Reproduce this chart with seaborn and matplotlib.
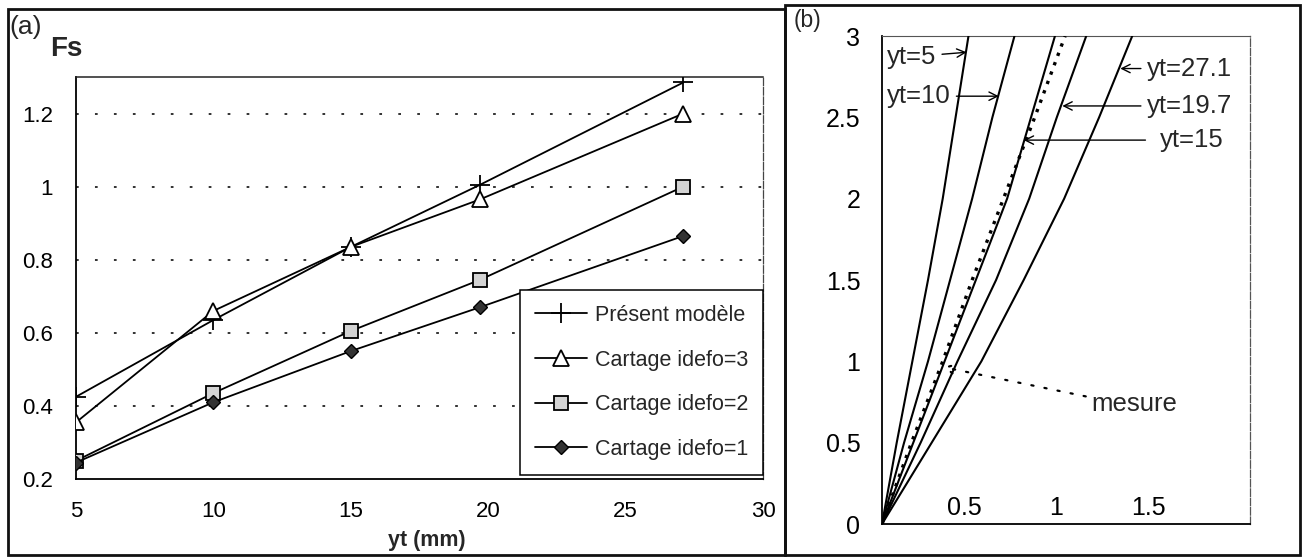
import matplotlib
matplotlib.use("Agg")
import matplotlib.pyplot as plt
import numpy as np
import pandas as pd
import seaborn as sns
from matplotlib.patches import Rectangle
from matplotlib.transforms import ScaledTranslation

# ---------------- data: panel (a) ----------------
yt_mm = [5, 10, 15, 19.7, 27.1]
fs_present = [0.425, 0.635, 0.835, 1.005, 1.285]
fs_idefo3 = [0.355, 0.66, 0.835, 0.965, 1.2]
fs_idefo2 = [0.25, 0.435, 0.605, 0.745, 1.0]
fs_idefo1 = [0.245, 0.41, 0.55, 0.67, 0.865]
series_labels = ["Présent modèle", "Cartage idefo=3", "Cartage idefo=2", "Cartage idefo=1"]
a_xticks = [5, 10, 15, 20, 25, 30]
a_yticks = [0.2, 0.4, 0.6, 0.8, 1.0, 1.2]
a_yticklabels = ["0.2", "0.4", "0.6", "0.8", "1", "1.2"]

# ---------------- data: panel (b) ----------------
b_y = [0, 0.5, 1, 1.5, 2, 2.5, 3]
b_x_yt5 = [0, 0.08, 0.165, 0.25, 0.33, 0.40, 0.47]
b_x_yt10 = [0, 0.12, 0.25, 0.37, 0.49, 0.60, 0.72]
b_x_yt15 = [0, 0.17, 0.34, 0.51, 0.68, 0.81, 0.94]
b_x_yt197 = [0, 0.21, 0.41, 0.62, 0.80, 0.95, 1.11]
b_x_yt271 = [0, 0.27, 0.54, 0.77, 0.99, 1.18, 1.36]
b_x_mesure = [0, 0.16, 0.33, 0.49, 0.66, 0.83, 0.995]
b_curve_labels = ["yt=5", "yt=10", "yt=15", "yt=19.7", "yt=27.1"]
b_xticks = [0.5, 1, 1.5]
b_xticklabels = ["0.5", "1", "1.5"]
b_yticks = [0, 0.5, 1, 1.5, 2, 2.5, 3]
b_yticklabels = ["0", "0.5", "1", "1.5", "2", "2.5", "3"]

sns.set_theme(style="white")
plt.rcParams["font.family"] = ["Liberation Sans", "DejaVu Sans"]

W, H = 1308, 558
fig = plt.figure(figsize=(W / 100, H / 100), dpi=100)
fig.patch.set_facecolor("white")


def px_rect(l, r, t, b):
    return [l / W, 1 - b / H, (r - l) / W, (b - t) / H]


# ---------------- panel (a) ----------------
ax = fig.add_axes(px_rect(76, 763, 77, 479))
ax.set_facecolor("white")
styles = [
    dict(marker="+", markersize=15, markerfacecolor="black", markeredgewidth=1.3),
    dict(marker="^", markersize=11, markerfacecolor="white", markeredgewidth=1.3),
    dict(marker="s", markersize=10, markerfacecolor="#d4d4d4", markeredgewidth=1.3),
    dict(marker="D", markersize=7.5, markerfacecolor="#333333", markeredgewidth=1.0),
]
for vals, lab, st in zip([fs_present, fs_idefo3, fs_idefo2, fs_idefo1], series_labels, styles):
    sns.lineplot(x=yt_mm, y=vals, ax=ax, color="black", linewidth=1.3,
                 markeredgecolor="black", label=lab, zorder=3, **st)

ax.set_xlim(5, 30)
ax.set_ylim(0.2, 1.3)
ax.set_xticks(a_xticks)
ax.set_xticklabels([str(t) for t in a_xticks])
ax.set_yticks(a_yticks)
ax.set_yticklabels(a_yticklabels)
for yv in a_yticks[1:]:
    ax.axhline(yv, color="#222222", linestyle=(0, (1.5, 9)), linewidth=1.3, zorder=1)
ax.tick_params(axis="both", direction="inout", length=11, width=1.1, labelsize=16,
               colors="black")
ax.tick_params(axis="x", pad=10)
ax.tick_params(axis="y", pad=11)
for s in ["left", "bottom"]:
    ax.spines[s].set_color("black")
    ax.spines[s].set_linewidth(1.3)
ax.spines["top"].set_color("#222222")
ax.spines["top"].set_linewidth(1.1)
ax.spines["right"].set_color("#444444")
ax.spines["right"].set_linewidth(0.9)
ax.spines["right"].set_linestyle((0, (6, 1.5)))
ax.set_xlabel("yt (mm)", fontsize=15.5, fontweight="bold")
ax.xaxis.set_label_coords(0.511, -0.128)
ax.set_ylabel("")
leg = ax.legend(loc="lower right", bbox_to_anchor=(1.0, 0.01), frameon=True, fancybox=False,
                framealpha=1, edgecolor="black", fontsize=15.5, handlelength=2.4,
                handletextpad=0.35, labelspacing=1.1, borderpad=0.7, borderaxespad=0.0)
leg.get_frame().set_linewidth(1.1)
leg.set_zorder(5)

fig.text(9 / W, 1 - 27 / H, "(a)", fontsize=19, va="center", ha="left")
fig.text(50 / W, 1 - 49 / H, "Fs", fontsize=20, fontweight="bold", va="center", ha="left")

# ---------------- panel (b) ----------------
bx = fig.add_axes(px_rect(882, 1250, 36, 524))
bx.set_facecolor("white")
for xs in [b_x_yt5, b_x_yt10, b_x_yt15, b_x_yt197, b_x_yt271]:
    sns.lineplot(x=xs, y=b_y, ax=bx, sort=False, estimator=None, color="black",
                 linewidth=1.5, zorder=3)
sns.lineplot(x=b_x_mesure, y=b_y, ax=bx, sort=False, estimator=None, color="black",
             linewidth=2.4, linestyle=(0, (1, 2.0)), zorder=4)
bx.set_xlim(0, 2)
bx.set_ylim(0, 3)
bx.set_yticks(b_yticks)
bx.set_yticklabels(b_yticklabels)
bx.set_xticks(b_xticks)
bx.set_xticklabels(b_xticklabels)
bx.tick_params(axis="both", direction="inout", length=13, width=1.1, labelsize=18,
               colors="black")
bx.tick_params(axis="y", pad=9)
bx.tick_params(axis="x", pad=0)
shift = ScaledTranslation(-10 / 100, 37 / 100, fig.dpi_scale_trans)
for lbl in bx.get_xticklabels():
    lbl.set_transform(lbl.get_transform() + shift)
for s in ["left", "bottom"]:
    bx.spines[s].set_color("black")
    bx.spines[s].set_linewidth(1.3)
bx.spines["top"].set_color("#555555")
bx.spines["top"].set_linewidth(0.8)
bx.spines["right"].set_color("#555555")
bx.spines["right"].set_linewidth(0.9)
bx.spines["right"].set_linestyle((0, (6, 1.5)))

FS_B = 18.5
arrow = dict(arrowstyle="->", color="black", lw=1.0, shrinkA=2, shrinkB=0,
             mutation_scale=15)
bx.annotate(b_curve_labels[0], xy=(0.46, 2.90), xytext=(0.025, 2.87), fontsize=FS_B,
            ha="left", va="center", arrowprops=dict(arrow, relpos=(1, 0.6)))
bx.annotate(b_curve_labels[1], xy=(0.635, 2.63), xytext=(0.025, 2.63), fontsize=FS_B,
            ha="left", va="center", arrowprops=dict(arrow, relpos=(1, 0.5)))
bx.annotate(b_curve_labels[4], xy=(1.295, 2.80), xytext=(1.44, 2.80), fontsize=FS_B,
            ha="left", va="center", arrowprops=dict(arrow, relpos=(0, 0.5)))
bx.annotate(b_curve_labels[3], xy=(0.98, 2.57), xytext=(1.44, 2.57), fontsize=FS_B,
            ha="left", va="center", arrowprops=dict(arrow, relpos=(0, 0.5)))
bx.annotate(b_curve_labels[2], xy=(0.77, 2.36), xytext=(1.51, 2.36), fontsize=FS_B,
            ha="left", va="center",
            arrowprops=dict(arrow, relpos=(0, 0.5), shrinkA=8))
bx.annotate("mesure", xy=(0.33, 0.965), xytext=(1.14, 0.74), fontsize=FS_B,
            ha="left", va="center",
            arrowprops=dict(arrowstyle="->", color="black", lw=1.6, linestyle=(0, (1, 5)),
                            relpos=(0, 0.75), shrinkA=2, shrinkB=0, mutation_scale=15))

fig.text(794 / W, 1 - 20 / H, "(b)", fontsize=16.5, va="center", ha="left")

# ---------------- panel frames ----------------
fig.add_artist(Rectangle((8 / W, 1 - 555 / H), (785 - 8) / W, (555 - 9) / H,
                         transform=fig.transFigure, fill=False, edgecolor="#111111",
                         linewidth=2.0))
fig.add_artist(Rectangle((785 / W, 1 - 555 / H), (1300 - 785) / W, (555 - 5) / H,
                         transform=fig.transFigure, fill=False, edgecolor="#111111",
                         linewidth=2.0))

fig.savefig("out.png", dpi=100, facecolor="white")
